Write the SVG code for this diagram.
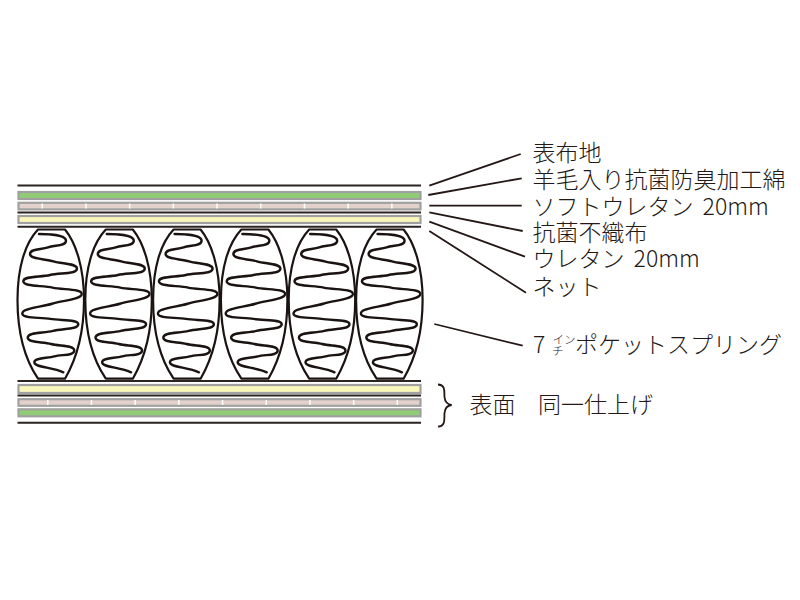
<svg xmlns="http://www.w3.org/2000/svg" width="800" height="600" viewBox="0 0 800 600">
<style>
.t{font-family:"Noto Sans CJK JP","Noto Sans",sans-serif;font-size:23px;fill:#231815;font-weight:300}
.s{font-size:11.500px}
.k{stroke:#231815;stroke-width:1.800;fill:none}
.bl{stroke:#2a2320;stroke-width:2;fill:none}
.g{fill:#91cb75;stroke:#a0a0a0;stroke-width:2.200}
.p{fill:#e2d2cb;stroke:#a0a0a0;stroke-width:2.200}
.y{fill:#f9f7bb;stroke:#a0a0a0;stroke-width:2.200}
.w{stroke:#fff;stroke-width:5;stroke-dasharray:1.500 42.200;fill:none}
.pk{fill:#fff;stroke:#1a1311;stroke-width:2.200;stroke-linejoin:round}
.sp{fill:none;stroke:#1a1311;stroke-width:2.400;stroke-linecap:round}
</style>
<defs>
<g id="pocket">
<path class="pk" d="M38 229.500H65C76 243 84 268 84 300C84 330 77 358 65 378.700H38C24 358 17.500 330 17.500 300C17.500 268 25 243 38 229.500Z"/>
<path class="sp" d="M39 234C50 234 66 235.200 66 240.700S54.500 244.950 48 247.350S30 248.500 30 254S45 258.700 53.500 261.350S77 263.200 77 268.700S59.850 272.700 50.150 275S23.300 275.800 23.300 281.300S42 285.350 52.500 287.650S81.700 288.500 81.700 294S62.700 300.250 52 303.750S22.300 308 22.300 313.500S40.200 317 50.300 318.900S78.300 318.800 78.300 324.300S62.100 328.500 53 330.900S27.700 332 27.700 337.500S42.600 341.700 51 344S74.300 345 74.300 350.500S61.500 354.300 54.300 356.400S34.300 357.300 34.300 362.300S52 367 63.300 372.300"/>
</g>
</defs>
<g id="layers-top">
<path class="bl" d="M17.500 185.500H421M17.500 212.400H421M17.500 226.800H421"/>
<rect class="g" x="18.500" y="192" width="402" height="7"/>
<rect class="p" x="18.500" y="202.800" width="402" height="6.600"/>
<path class="w" d="M41.500 206.100H420"/>
<rect class="y" x="18.500" y="216" width="402" height="7"/>
</g>
<g id="pocket-1"><use href="#pocket"/></g>
<g id="pocket-2"><use href="#pocket" x="67.800"/></g>
<g id="pocket-3"><use href="#pocket" x="135.600"/></g>
<g id="pocket-4"><use href="#pocket" x="203.400"/></g>
<g id="pocket-5"><use href="#pocket" x="271.200"/></g>
<g id="pocket-6"><use href="#pocket" x="338.600"/></g>
<g id="layers-bottom">
<path class="bl" d="M17.500 381H421M17.500 395.400H421M17.500 422.700H421"/>
<rect class="y" x="18.500" y="385" width="402" height="8"/>
<rect class="p" x="18.500" y="399.200" width="402" height="6.600"/>
<path class="w" d="M47 402.500H420"/>
<rect class="g" x="18.500" y="409.300" width="402" height="7"/>
</g>
<g id="connectors">
<path class="k" d="M429.300 185.700L520.700 154M428.300 195L521.700 178.300M429.300 205.700H521.700M429.300 212.300L522.700 231M429.300 221.700L525 256.700M429.300 231L526 292.700M434.300 324L522.700 345.700"/>
<path class="k" d="M438 384.500C446 385 444 392 444.500 397C445 402 447 404.500 451.700 405C447 405.500 445 408 444.500 413C444 419 446 426 438 426.700"/>
</g>
<g id="labels">
<text class="t" x="532.500" y="161">表布地</text>
<text class="t" x="532.500" y="188">羊毛入り抗菌防臭加工綿</text>
<text class="t" x="532.500" y="215">ソフトウレタン<tspan dx="4"> 20mm</tspan></text>
<text class="t" x="532.500" y="240.500">抗菌不織布</text>
<text class="t" x="532.500" y="267">ウレタン<tspan dx="4"> 20mm</tspan></text>
<text class="t" x="532.500" y="295">ネット</text>
<text class="t" x="533" y="353">7<tspan class="s" x="552.500" y="344">イン</tspan><tspan class="s" x="552" y="355">チ</tspan><tspan x="575" y="353">ポケットスプリング</tspan></text>
<text class="t" x="469.500" y="412.500">表面</text>
<text class="t" x="538" y="412.500">同一仕上げ</text>
</g>
</svg>
